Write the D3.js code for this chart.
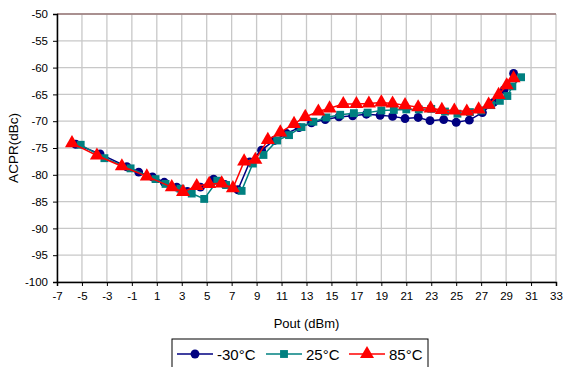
<!DOCTYPE html>
<html><head><meta charset="utf-8">
<script src="https://cdn.jsdelivr.net/npm/d3@7"></script>
<style>body{margin:0;background:#fff}svg{display:block}text{font-family:"Liberation Sans",Arial,sans-serif;fill:#000}</style>
</head><body><svg id="c" width="565" height="367"></svg>
<script>
const seriesNames = ["-30°C", "25°C", "85°C"];
const xTicks = d3.range(-7, 34, 2);
const yTicks = d3.range(-100, -49, 5);
const poutM30 = [-5.5,-3.55,-1.4,-0.45,0.65,1.6,2.6,3.45,4.5,5.55,6.45,7.5,8.45,9.4,10.4,11.4,12.4,13.4,14.5,15.6,16.7,17.8,18.9,19.9,20.9,21.95,22.9,24.0,25.0,26.05,27.1,28.0,28.85,29.6];
const acprM30 = [-74.3,-76.1,-78.5,-79.5,-80.4,-81.4,-82.3,-83.1,-82.3,-80.8,-81.8,-82.8,-77.6,-75.4,-73.6,-72.3,-71.2,-70.3,-69.7,-69.2,-69.0,-68.7,-68.9,-69.1,-69.5,-69.3,-69.9,-69.7,-70.2,-69.8,-68.4,-66.5,-64.1,-61.1];
const pout25 = [-5.1,-3.2,-1.1,0.9,1.7,2.9,3.8,4.8,5.85,6.55,7.8,8.7,9.55,10.65,11.6,12.6,13.55,14.6,15.7,16.8,17.9,19.0,20.0,21.0,22.0,23.0,24.1,25.1,26.1,27.0,27.8,28.5,29.1,29.5,30.2];
const acpr25 = [-74.4,-76.9,-78.8,-80.8,-81.7,-82.6,-83.5,-84.5,-81.1,-81.9,-83.0,-77.9,-76.3,-73.6,-72.6,-71.1,-70.1,-69.3,-68.8,-68.5,-68.4,-68.0,-67.9,-67.8,-67.8,-67.7,-68.2,-68.6,-68.3,-68.0,-67.0,-66.2,-65.3,-63.5,-61.8];
const pout85 = [-5.8,-3.8,-1.8,0.2,2.2,3.1,4.2,5.2,6.2,7.1,8.0,8.9,9.9,10.9,12.0,12.9,13.95,14.85,15.95,17.0,18.0,19.0,19.9,20.9,21.95,22.95,23.85,24.85,25.85,26.8,27.6,28.4,29.05,29.6];
const acpr85 = [-74.1,-76.4,-78.4,-80.3,-82.3,-83.2,-82.1,-81.7,-81.6,-82.5,-77.5,-77.2,-73.5,-72.1,-70.5,-69.2,-68.2,-67.6,-66.8,-66.8,-66.7,-66.5,-66.7,-67.0,-67.4,-67.6,-67.9,-68.0,-68.2,-67.8,-66.9,-65.1,-63.3,-62.0];

const colors = ["#000080", "#008080", "#ff0000"];
const shapes = [d3.symbolCircle, d3.symbolSquare, d3.symbolTriangle];
const sizes = [62, 62, 85];
const series = [
  {name: seriesNames[0], xs: poutM30, ys: acprM30},
  {name: seriesNames[1], xs: pout25, ys: acpr25},
  {name: seriesNames[2], xs: pout85, ys: acpr85}
];

const svg = d3.select("#c");
const L = 57, R = 556, T = 14, B = 282;
const x = d3.scaleLinear().domain([-7, 33]).range([L, R]);
const y = d3.scaleLinear().domain([-100, -50]).range([B, T]);

const g = svg.append("g");
g.selectAll(".vg").data(xTicks).join("line")
  .attr("x1", d => x(d)).attr("x2", d => x(d)).attr("y1", T).attr("y2", B)
  .attr("stroke", "#c8c8c8").attr("stroke-width", 1.3);
g.selectAll(".hg").data(yTicks).join("line")
  .attr("x1", L).attr("x2", R).attr("y1", d => y(d)).attr("y2", d => y(d))
  .attr("stroke", "#c8c8c8").attr("stroke-width", 1.3);
g.append("line").attr("x1", L).attr("x2", R).attr("y1", T).attr("y2", T)
  .attr("stroke", "#9a7878").attr("stroke-width", 1.5);

const fmt = d => String(d);
const xAxis = d3.axisBottom(x).tickValues(xTicks).tickFormat(fmt).tickSize(4).tickPadding(6);
const yAxis = d3.axisLeft(y).tickValues(yTicks).tickFormat(fmt).tickSize(4).tickPadding(5);
const xa = svg.append("g").attr("transform", `translate(0,${B})`).call(xAxis);
const ya = svg.append("g").attr("transform", `translate(${L},0)`).call(yAxis);
[xa, ya].forEach(a => {
  a.select(".domain").attr("stroke", "#000").attr("stroke-width", 1.5);
  a.selectAll(".tick line").attr("stroke", "#000");
  a.selectAll("text").attr("font-size", 11.5).attr("font-family", "Liberation Sans, Arial, sans-serif");
});

svg.append("text").attr("transform", `translate(18,${(T+B)/2}) rotate(-90)`)
  .attr("text-anchor", "middle").attr("font-size", 13.5).text("ACPR(dBc)");
svg.append("text").attr("x", (L+R)/2).attr("y", 328)
  .attr("text-anchor", "middle").attr("font-size", 13).text("Pout (dBm)");

const line = d3.line().x(d => x(d[0])).y(d => y(d[1]));
series.forEach((s, i) => {
  const pts = s.xs.map((v, k) => [v, s.ys[k]]);
  svg.append("path").datum(pts).attr("d", line).attr("fill", "none")
    .attr("stroke", colors[i]).attr("stroke-width", 1.5);
  svg.append("g").selectAll("path").data(pts).join("path")
    .attr("transform", d => `translate(${x(d[0])},${y(d[1])})`)
    .attr("d", d3.symbol().type(shapes[i]).size(sizes[i]))
    .attr("fill", colors[i]);
});

const lg = svg.append("g");
lg.append("rect").attr("x", 172).attr("y", 339).attr("width", 256).attr("height", 32)
  .attr("fill", "#fff").attr("stroke", "#000").attr("stroke-width", 1);
const lx = [177, 266, 349];
series.forEach((s, i) => {
  const cy = 354;
  lg.append("line").attr("x1", lx[i]).attr("x2", lx[i] + 36).attr("y1", cy).attr("y2", cy)
    .attr("stroke", colors[i]).attr("stroke-width", 1.5);
  lg.append("path").attr("transform", `translate(${lx[i] + 18},${cy})`)
    .attr("d", d3.symbol().type(shapes[i]).size(sizes[i])).attr("fill", colors[i]);
  lg.append("text").attr("x", lx[i] + 40).attr("y", cy + 5.5).attr("font-size", 15).text(s.name);
});
</script></body></html>
